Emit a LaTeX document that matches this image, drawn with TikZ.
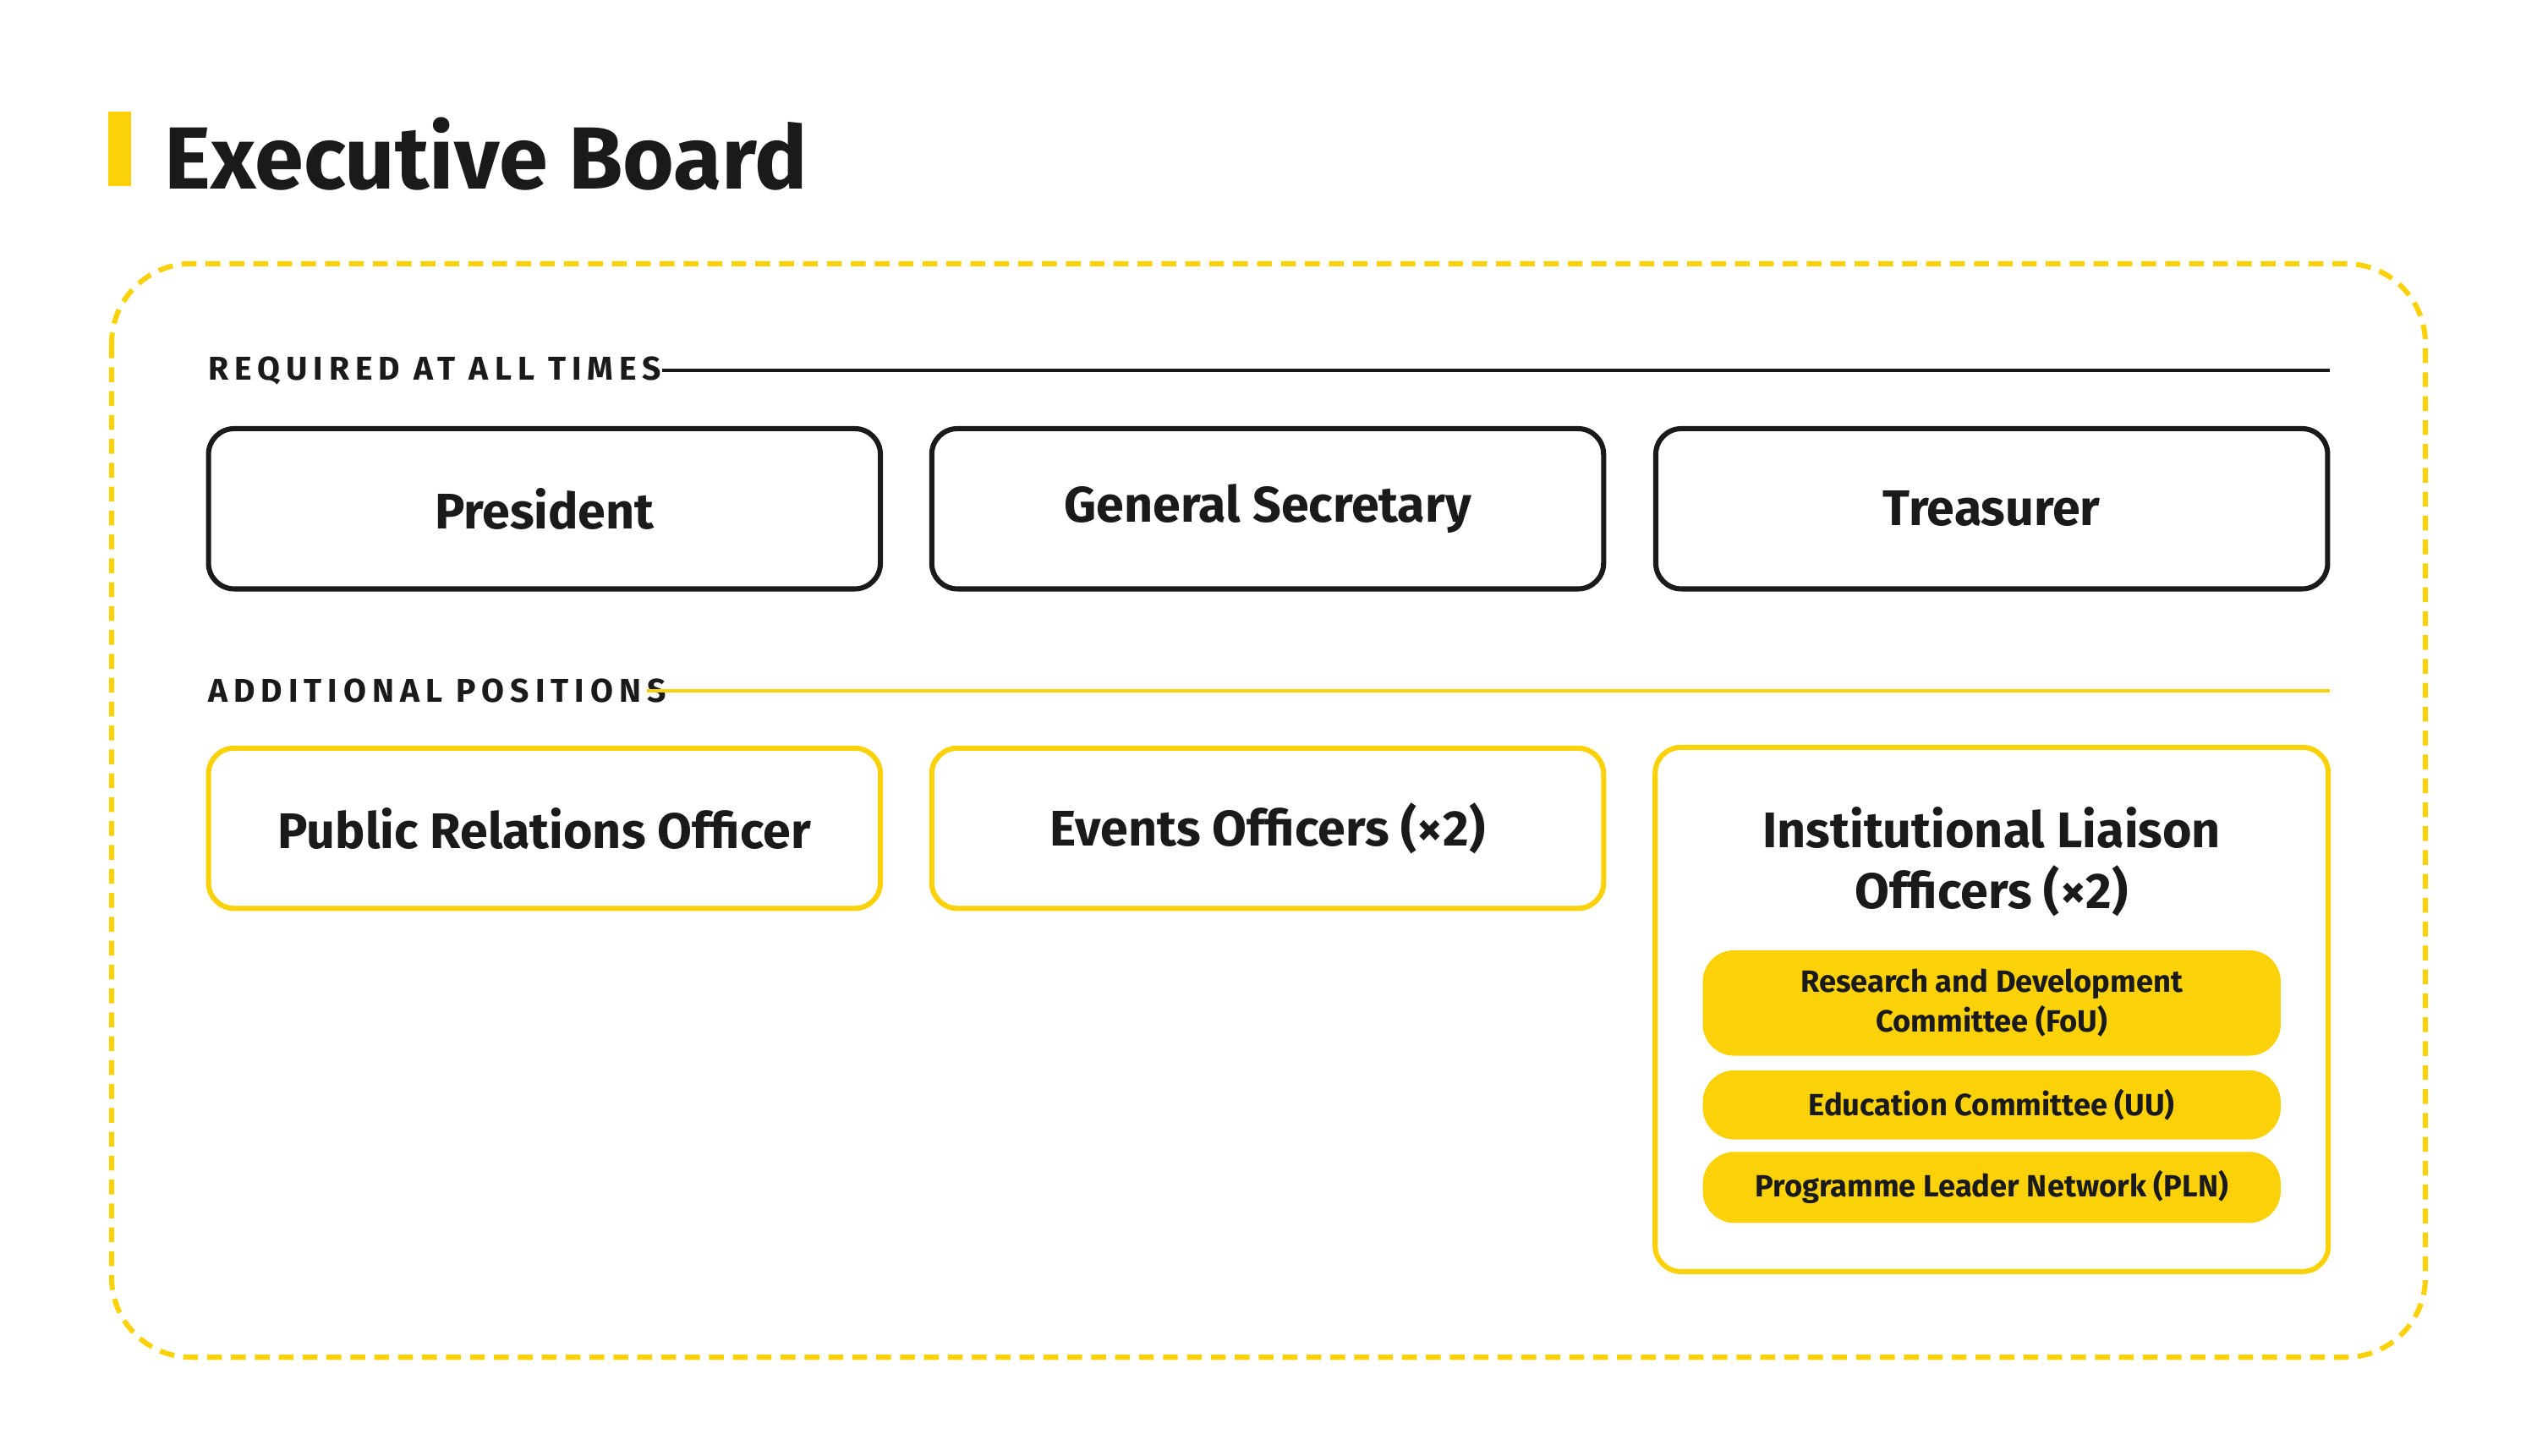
\documentclass[tikz,border=0pt]{standalone}
\usepackage{fontspec}
\setmainfont{Fira Sans}
\definecolor{yel}{HTML}{FBD20A}
\definecolor{ink}{HTML}{1A1A1A}
\begin{document}
\begin{tikzpicture}[x=0.01cm,y=-0.01cm,
  hdr/.style={anchor=west,text=ink,font=\fontsize{5.8}{7}\selectfont\addfontfeatures{LetterSpace=18}\bfseries},
  role/.style={draw=ink,line width=0.9pt,rounded corners=4.5pt,minimum width=4.15cm,minimum height=0.99cm,font=\fontsize{8.8}{10.5}\selectfont\bfseries,text=ink},
  yrole/.style={role,draw=yel},
  pill/.style={fill=yel,rounded corners=5.5pt,minimum width=3.57cm,text=ink,font=\fontsize{5.4}{6.9}\selectfont\bfseries,align=center}]
\useasboundingbox (0,0) rectangle (1568,900);
\fill[yel] (67,69) rectangle (81,115) coordinate (bar);
\node[anchor=base west,inner sep=0,text=ink,font=\fontsize{15.5}{18}\selectfont\bfseries] (title) at (101,117) {Executive Board};
\draw[yel,line width=0.9pt,dash pattern=on 2.6pt off 1.6pt,rounded corners=14pt] (69,163) rectangle (1499,839);
\node[hdr,inner sep=0] (h1) at (128,229) {REQUIRED AT ALL TIMES};
\coordinate (h1e) at (1440,229);
\draw[ink,line width=0.5pt] (409,229) -- (h1e);
\node[role] (pres) at (336.5,314.5) {President};
\node[role] (gs) at (783.5,314.5) {General Secretary};
\node[role] (tr) at (1231,314.5) {Treasurer};
\node[hdr,inner sep=0] (h2) at (128,427) {ADDITIONAL POSITIONS};
\coordinate (h2e) at (1440,427);
\draw[yel,line width=0.6pt] (400,427) -- (h2e);
\node[yrole] (pr) at (336.5,512) {Public Relations Officer};
\node[yrole] (ev) at (783.5,512) {Events Officers (×2)};
\draw[yel,line width=0.9pt,rounded corners=4.5pt] (1023,462) rectangle (1439,786);
\node[font=\fontsize{8.8}{10.7}\selectfont\bfseries,text=ink,align=center] (ilo) at (1231,532.5) {Institutional Liaison\\Officers (×2)};
\node[pill,minimum height=0.64cm] (fou) at (1231,620) {Research and Development\\Committee (FoU)};
\node[pill,minimum height=0.40cm,rounded corners=5.6pt] (uu) at (1231,683) {Education Committee (UU)};
\node[pill,minimum height=0.40cm,rounded corners=5.6pt] (pln) at (1231,734) {Programme Leader Network (PLN)};
\end{tikzpicture}
\end{document}
